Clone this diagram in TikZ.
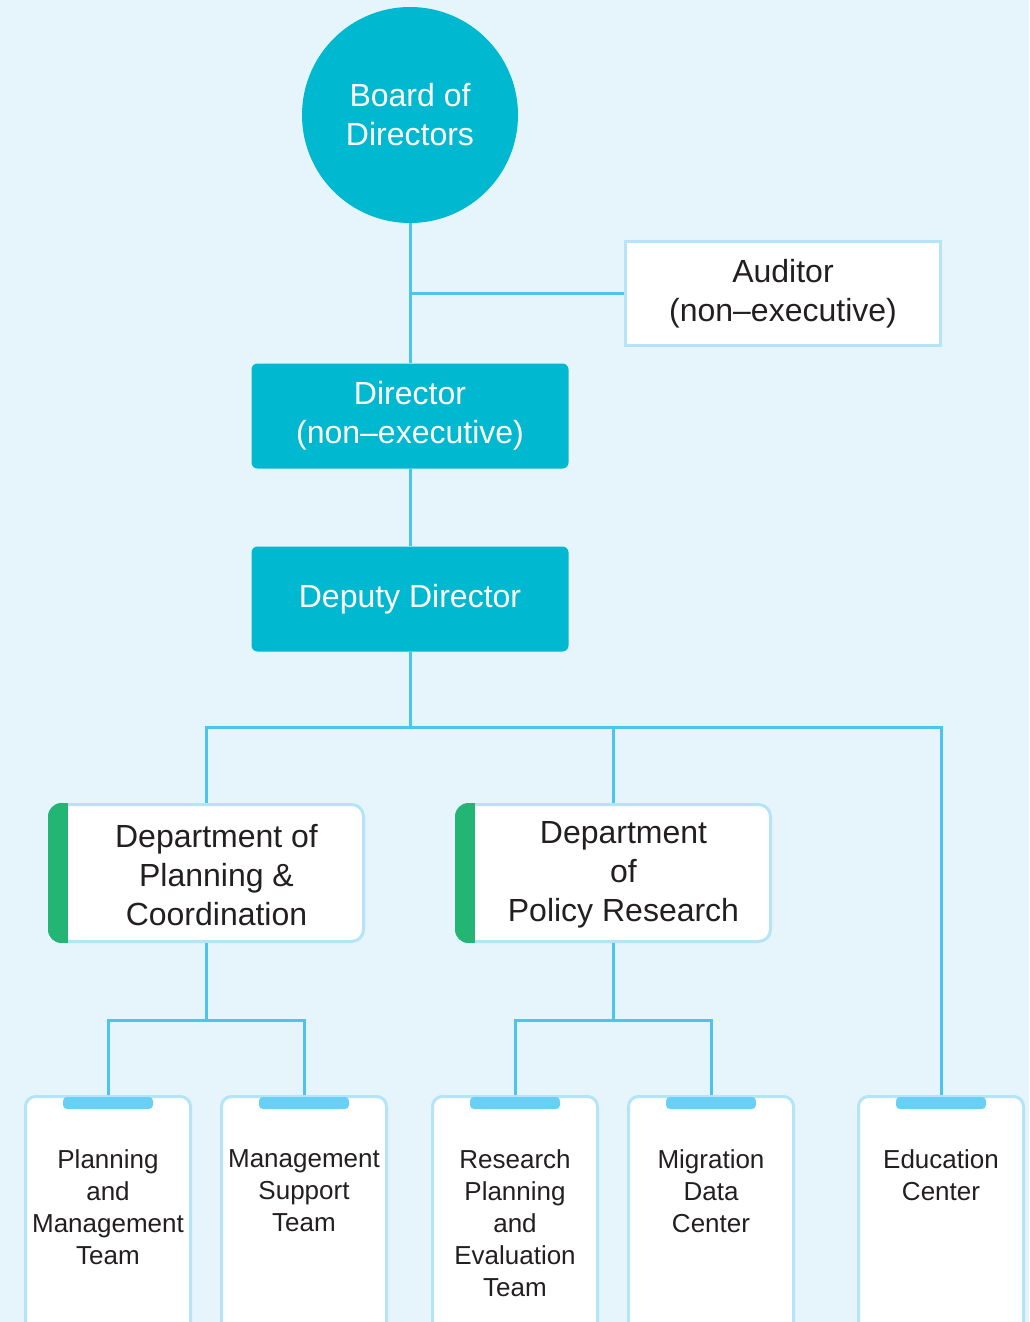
\documentclass[tikz,border=0pt]{standalone}
\usepackage{fontspec}
\setmainfont{Liberation Sans}
\usetikzlibrary{positioning,calc}

\definecolor{bgblue}{HTML}{E6F5FC}
\definecolor{kiteal}{HTML}{00B8CF}
\definecolor{linkblue}{HTML}{4DC4F0}
\definecolor{edgeblue}{HTML}{B5E3F8}
\definecolor{bargreen}{HTML}{22B573}
\definecolor{tabblue}{HTML}{6ACFF5}
\definecolor{inkgray}{HTML}{231F20}

\newcommand\orgfont{\fontsize{16}{19.5}\selectfont}
\newcommand\teamfont{\fontsize{13}{16}\selectfont}

\tikzset{
  boardnode/.style={circle, fill=kiteal, text=white, minimum size=108pt,
                    align=center, font=\orgfont},
  execbox/.style={rectangle, rounded corners=3pt, fill=kiteal, text=white,
                  minimum width=158.5pt, minimum height=52.5pt, align=center, font=\orgfont},
  auditbox/.style={rectangle, draw=edgeblue, line width=1.5pt, fill=white, text=inkgray,
                   minimum width=157.5pt, minimum height=52pt, align=center, font=\orgfont},
  deptbox/.style={rectangle, rounded corners=6pt, draw=edgeblue, line width=1.5pt,
                  fill=white, minimum width=157pt, minimum height=68.5pt},
  depttext/.style={align=center, text=inkgray, font=\orgfont},
  teambox/.style={rectangle, rounded corners=5pt, draw=edgeblue, line width=1.5pt,
                  fill=white, minimum width=82.5pt, minimum height=130pt, anchor=north},
  teamtext/.style={align=center, text=inkgray, font=\teamfont, inner sep=0pt, anchor=north},
  line/.style={draw=linkblue, line width=1.5pt}
}

\begin{document}
\begin{tikzpicture}[x=0.5pt,y=-0.5pt]
    \useasboundingbox (0,0) rectangle (1029,1322);
    \clip (0,0) rectangle (1029,1322);
    \fill[bgblue] (0,0) rectangle (1029,1322);

      % Top of the chart.
      \node[boardnode] (board) at (410,115) {Board of\\Directors};
      \node[auditbox] (auditor) at (783,293.5) {Auditor\\(non–executive)};
      \node[execbox] (director) at (410,416) {Director\\(non–executive)};
      \node[execbox] (deputy) at (410,599) {Deputy Director};

      % Departments, with the green bar on the left.
      \node[deptbox] (plan) at (206.5,873) {};
      \node[deptbox] (policy) at (613.5,873) {};
      \foreach \d in {plan,policy} {
        \begin{scope}
          \clip[rounded corners=6.75pt] (\d.south west) rectangle (\d.north east);
          \fill[bargreen] (\d.south west) rectangle ($(\d.north west)+(20,0)$);
        \end{scope}
      }
      \node[depttext] (plantxt) at ($(plan.center)+(10,2)$) {Department of\\Planning \&\\Coordination};
      \node[depttext] (policytxt) at ($(policy.center)+(10,2)$) {Department\\of\\Policy Research};

      % Teams and centers.
      \node[teambox] (pmteam) at (108,1095) {};
      \node[teambox] (msteam) at (304,1095) {};
      \node[teambox] (rpteam) at (515,1095) {};
      \node[teambox] (mdcenter) at (711,1095) {};
      \node[teambox] (educenter) at (941,1095) {};
      \foreach \t in {pmteam,msteam,rpteam,mdcenter,educenter}
        \fill[tabblue, rounded corners=2pt] ($(\t.north)+(-45,2)$) rectangle ($(\t.north)+(45,14)$);

      \node[teamtext] (pmtxt) at ($(pmteam.north)+(0,54)$) {Planning\\and\\Management\\Team};
      \node[teamtext] (mstxt) at ($(msteam.north)+(0,54)$) {Management\\Support\\Team};
      \node[teamtext] (rptxt) at ($(rpteam.north)+(0,54)$) {Research\\Planning\\and\\Evaluation\\Team};
      \node[teamtext] (mdtxt) at ($(mdcenter.north)+(0,54)$) {Migration\\Data\\Center};
      \node[teamtext] (edutxt) at ($(educenter.north)+(0,54)$) {Education\\Center};

      % Connectors.
      \coordinate (bus) at ($(deputy.south)+(0,76)$);
      \coordinate (planfork) at ($(plan.south)+(0,77)$);
      \coordinate (policyfork) at ($(policy.south)+(0,77)$);
      \draw[line] (board.south) -- (director.north);
      \draw[line] (board.south |- auditor.west) -- (auditor.west);
      \draw[line] (director.south) -- (deputy.north);
      \draw[line] (deputy.south) -- (bus);
      \draw[line] (plan.north) |- (educenter.north |- bus) -- (educenter.north);
      \draw[line] (policy.north) -- (policy.north |- bus);
      \draw[line] (plan.south) -- (planfork);
      \draw[line] (pmteam.north) |- (planfork) -| (msteam.north);
      \draw[line] (policy.south) -- (policyfork);
      \draw[line] (rpteam.north) |- (policyfork) -| (mdcenter.north);
\end{tikzpicture}
\end{document}
